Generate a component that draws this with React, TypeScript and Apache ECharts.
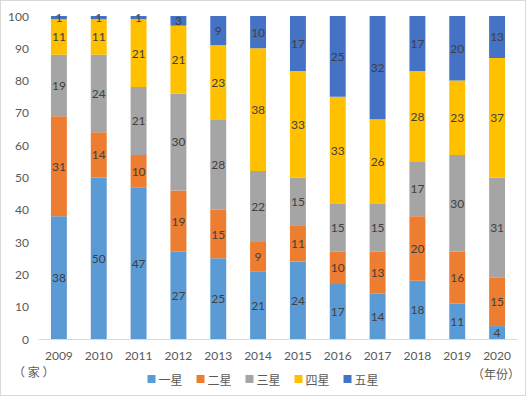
import React, { useEffect, useRef } from "react";
import * as echarts from "echarts";

const years = ["2009", "2010", "2011", "2012", "2013", "2014", "2015", "2016", "2017", "2018", "2019", "2020"];
const oneStar = [38, 50, 47, 27, 25, 21, 24, 17, 14, 18, 11, 4];
const twoStar = [31, 14, 10, 19, 15, 9, 11, 10, 13, 20, 16, 15];
const threeStar = [19, 24, 21, 30, 28, 22, 15, 15, 15, 17, 30, 31];
const fourStar = [11, 11, 21, 21, 23, 38, 33, 33, 26, 28, 23, 37];
const fiveStar = [1, 1, 1, 3, 9, 10, 17, 25, 32, 17, 20, 13];
const seriesNames = ["一星", "二星", "三星", "四星", "五星"];
const colors = ["#5B9BD5", "#ED7D31", "#A5A5A5", "#FFC000", "#4472C4"];

export default function App() {
  const ref = useRef<HTMLDivElement>(null);
  useEffect(() => {
    if (!ref.current) return;
    const chart = echarts.init(ref.current, null, { renderer: "svg" });
    const data = [oneStar, twoStar, threeStar, fourStar, fiveStar];
    const numFont = "Lato, 'Noto Sans CJK SC', sans-serif";
    chart.setOption({
      animation: false,
      backgroundColor: "#ffffff",
      grid: { left: 38, right: 8, top: 15, bottom: 56, containLabel: false },
      legend: {
        bottom: 5,
        left: "center",
        itemWidth: 8,
        itemHeight: 8,
        itemGap: 14,
        icon: "rect",
        textStyle: { fontSize: 12, color: "#595959", fontFamily: "'Noto Sans CJK SC', sans-serif", padding: [0, 0, 0, -2] },
        data: seriesNames,
      },
      xAxis: {
        type: "category",
        data: years,
        axisLine: { lineStyle: { color: "#D9D9D9" } },
        axisTick: { show: false },
        axisLabel: { color: "#595959", fontSize: 12, fontFamily: numFont, margin: 10 },
      },
      yAxis: {
        type: "value",
        min: 0,
        max: 100,
        interval: 10,
        splitLine: { show: false },
        axisLine: { show: false },
        axisTick: { show: false },
        axisLabel: { color: "#595959", fontSize: 12, fontFamily: numFont, margin: 10 },
      },
      graphic: [
        { type: "text", left: 12, top: 364, style: { text: "（ 家 ）", fontSize: 12, fill: "#595959", fontFamily: "'Noto Sans CJK SC', sans-serif" } },
        { type: "text", right: 5, top: 366, style: { text: "（年份）", fontSize: 12, fill: "#595959", fontFamily: "'Noto Sans CJK SC', sans-serif" } },
      ],
      series: seriesNames.map((name, i) => ({
        name,
        type: "bar",
        stack: "total",
        barWidth: "40%",
        data: data[i],
        itemStyle: { color: colors[i] },
        label: {
          show: true,
          position: "inside",
          color: "#404040",
          fontSize: 12,
          fontFamily: numFont,
        },
      })),
    });
    return () => chart.dispose();
  }, []);
  return (
    <div
      ref={ref}
      style={{
        position: "fixed",
        left: 0,
        top: 0,
        width: 526,
        height: 396,
        boxSizing: "border-box",
        border: "1px solid #D9D9D9",
        background: "#fff",
      }}
    />
  );
}
